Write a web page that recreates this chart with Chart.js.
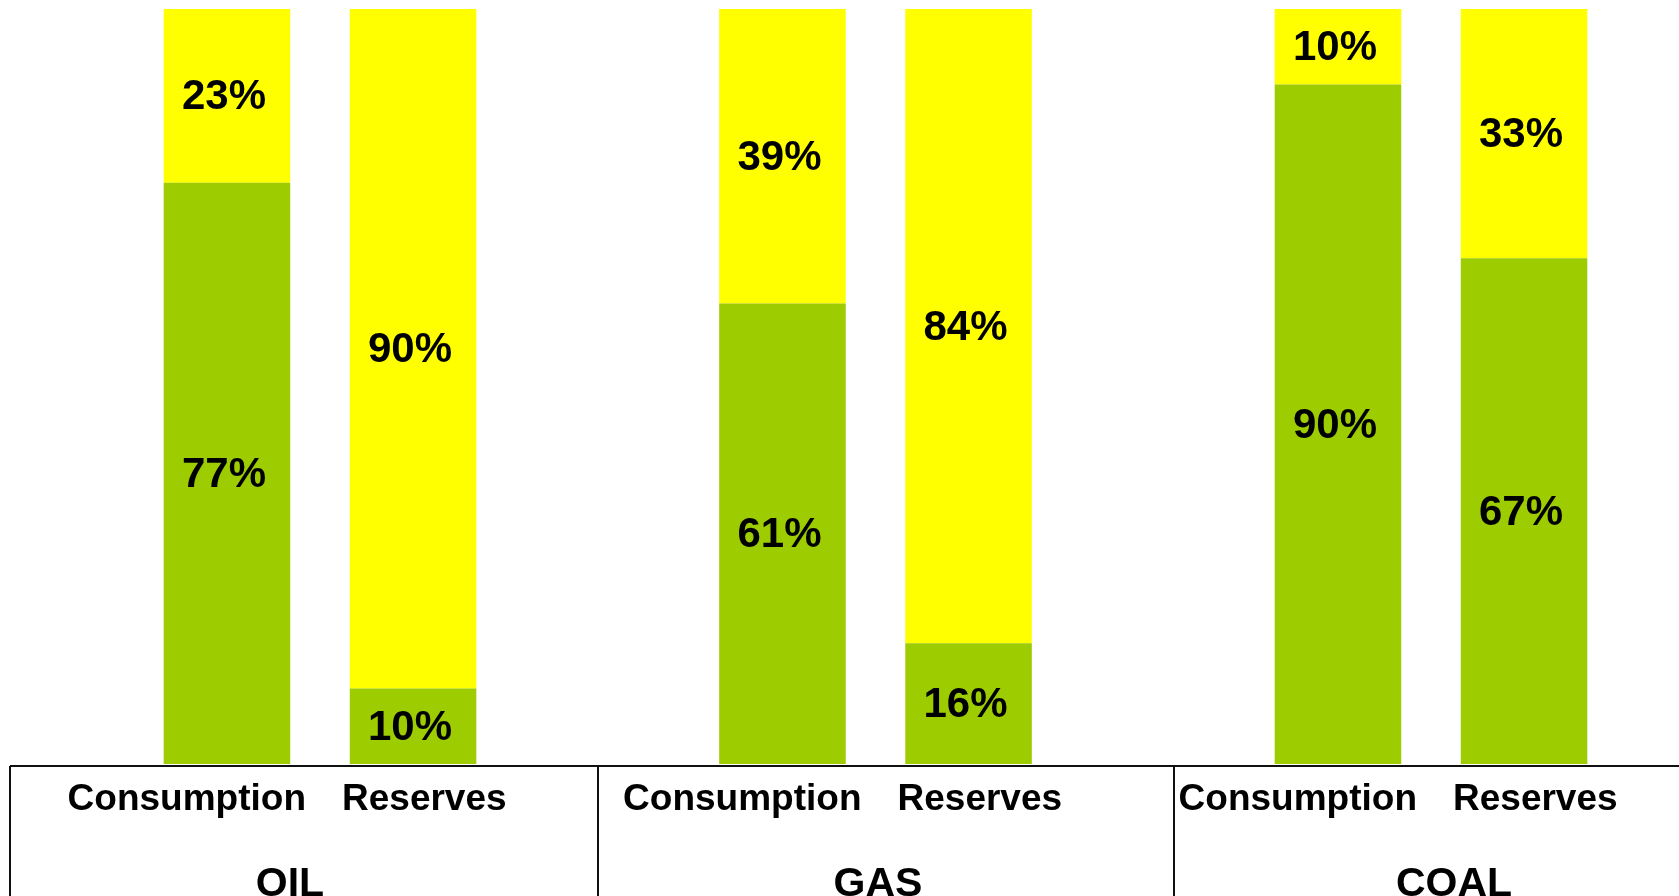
<!DOCTYPE html>
<html>
<head>
<meta charset="utf-8">
<script src="https://cdn.jsdelivr.net/npm/chart.js@4"></script>
<style>
  html, body { margin: 0; padding: 0; background: #fff; overflow: hidden; }
  #wrap { width: 1679px; height: 896px; position: relative; }
</style>
</head>
<body>
<div id="wrap"><canvas id="chart"></canvas></div>
<script>
// fuel groups and the two bars in each
const groups = ['OIL', 'GAS', 'COAL'];
const barLabels = ['Consumption', 'Reserves'];

// share in % (green = lower part, yellow = upper part)
const consumptionGreen = [77, 61, 90];
const consumptionYellow = [23, 39, 10];
const reservesGreen = [10, 16, 67];
const reservesYellow = [90, 84, 33];

const GREEN = '#9dcc00';
const YELLOW = '#ffff00';

// table lines + labels under the bars
const tablePlugin = {
  id: 'tablePlugin',
  afterDatasetsDraw(chart) {
    const ctx = chart.ctx;
    const xs = chart.scales.x;
    const area = chart.chartArea;
    const W = chart.width;

    // percent labels in every segment
    ctx.save();
    ctx.fillStyle = '#000';
    ctx.font = 'bold 42px "Liberation Sans", Arial, sans-serif';
    ctx.textAlign = 'center';
    ctx.textBaseline = 'middle';
    chart.data.datasets.forEach((ds, di) => {
      const meta = chart.getDatasetMeta(di);
      meta.data.forEach((bar, i) => {
        const y = (bar.y + bar.base) / 2;
        ctx.fillText(ds.data[i] + '%', bar.x - 3, y + 2);
      });
    });
    ctx.restore();

    // frame
    const lineY = area.bottom + 2;
    const cells = [10, 598, 1174, W];
    ctx.save();
    ctx.strokeStyle = '#111';
    ctx.lineWidth = 2;
    ctx.beginPath();
    ctx.moveTo(cells[0], lineY);
    ctx.lineTo(W, lineY);
    for (let i = 0; i < 3; i++) {
      ctx.moveTo(cells[i], lineY);
      ctx.lineTo(cells[i], chart.height);
    }
    ctx.stroke();

    // Consumption / Reserves, then fuel name
    ctx.fillStyle = '#000';
    ctx.textBaseline = 'alphabetic';
    ctx.font = 'bold 37px "Liberation Sans", Arial, sans-serif';
    groups.forEach((g, i) => {
      const cx = xs.getPixelForValue(i);
      ctx.textAlign = 'right';
      ctx.fillText(barLabels[0], cx - 14, lineY + 44);
      ctx.textAlign = 'left';
      ctx.fillText(barLabels[1], cx + 22, lineY + 44);
    });
    ctx.font = 'bold 41px "Liberation Sans", Arial, sans-serif';
    ctx.textAlign = 'center';
    ctx.textBaseline = 'top';
    groups.forEach((g, i) => {
      ctx.fillText(g, cells[i] + 280, lineY + 98);
    });
    ctx.restore();
  }
};

const datasets = [
  { label: 'Consumption', data: consumptionGreen, backgroundColor: GREEN, stack: 'cons' },
  { label: 'Consumption', data: consumptionYellow, backgroundColor: YELLOW, stack: 'cons' },
  { label: 'Reserves', data: reservesGreen, backgroundColor: GREEN, stack: 'res' },
  { label: 'Reserves', data: reservesYellow, backgroundColor: YELLOW, stack: 'res' }
].map(d => Object.assign(d, {
  clip: false,
  categoryPercentage: 0.67,
  barPercentage: 0.68,
  borderWidth: 0
}));

new Chart(document.getElementById('chart'), {
  type: 'bar',
  data: { labels: groups, datasets: datasets },
  options: {
    responsive: true,
    maintainAspectRatio: false,
    animation: false,
    layout: { padding: { left: 320, right: 248, top: 9, bottom: 132 } },
    plugins: { legend: { display: false }, tooltip: { enabled: false } },
    scales: {
      x: { display: false, stacked: true, offset: false },
      y: { display: false, stacked: true, min: 0, max: 100 }
    }
  },
  plugins: [tablePlugin]
});
</script>
</body>
</html>
